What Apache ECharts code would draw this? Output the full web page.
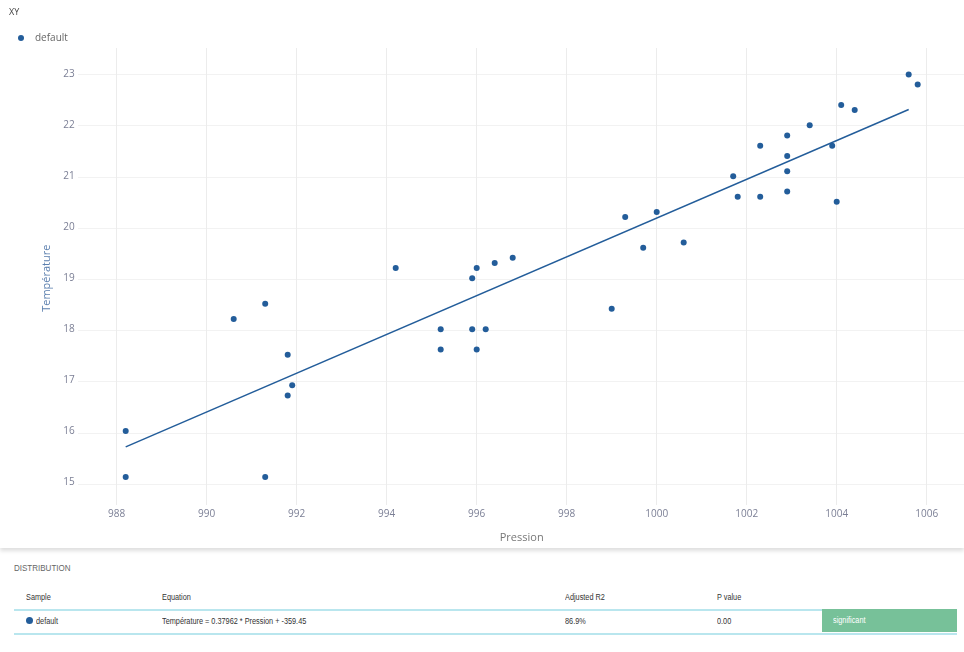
<!DOCTYPE html>
<html>
<head>
<meta charset="utf-8">
<title>XY</title>
<script src="https://cdn.jsdelivr.net/npm/echarts@6/dist/echarts.min.js"></script>
<style>
	html, body { margin: 0; padding: 0; background: #fff; }
	#main { width: 964px; height: 548px; box-shadow: 0 3px 4px rgba(0, 0, 0, 0.13); position: relative; }
	#dist { position: relative; width: 964px; height: 104px; font-family: "Liberation Sans", Arial, sans-serif; }
	#dist .ttl { position: absolute; left: 14px; top: 15px; font-size: 9px; color: #666; transform: scaleX(0.89); transform-origin: left center; }
	#dist .hd, #dist .cell { position: absolute; font-size: 8.5px; color: #333; transform: scaleX(0.86); transform-origin: left center; white-space: nowrap; }
	#dist .hd { top: 44px; }
	#dist .cell { top: 68px; }
	#dist .ln { position: absolute; left: 14px; width: 943px; height: 1.5px; background: #b9e6ee; }
	#dist .dot { position: absolute; left: 26px; top: 69px; width: 7px; height: 7px; border-radius: 50%; background: #235d9a; }
	#dist .badge { position: absolute; left: 822px; top: 61px; width: 135px; height: 23px; background: #77c199; }
	#dist .badge span { position: absolute; left: 11px; top: 0; color: #fff; font-size: 8.5px; line-height: 23px; transform: scaleX(0.86); transform-origin: left center; }
</style>
</head>
<body>
<div id="main"></div>
<div id="dist">
	<div class="ttl">DISTRIBUTION</div>
	<div class="hd" style="left:26px">Sample</div>
	<div class="hd" style="left:162px">Equation</div>
	<div class="hd" style="left:565px">Adjusted R2</div>
	<div class="hd" style="left:717px">P value</div>
	<div class="ln" style="top:61px"></div>
	<div class="dot"></div>
	<div class="cell" style="left:36px">default</div>
	<div class="cell" id="eq" style="left:162px"></div>
	<div class="cell" id="r2" style="left:565px"></div>
	<div class="cell" id="pv" style="left:717px"></div>
	<div class="badge"><span>significant</span></div>
	<div class="ln" style="top:85px"></div>
</div>
<script>
// Pression / Température
var pression = [988.2, 988.2, 990.6, 991.3, 991.3, 991.8, 991.8, 991.9, 994.2, 995.2,
	995.2, 995.9, 995.9, 996.0, 996.0, 996.2, 996.4, 996.8, 999.0, 999.3,
	999.7, 1000.0, 1000.6, 1001.7, 1001.8, 1002.3, 1002.3, 1002.9, 1002.9, 1002.9,
	1002.9, 1003.4, 1003.9, 1004.0, 1004.1, 1004.4, 1005.6, 1005.8];
var temperature = [16.0, 15.1, 18.2, 18.5, 15.1, 17.5, 16.7, 16.9, 19.2, 18.0,
	17.6, 19.0, 18.0, 19.2, 17.6, 18.0, 19.3, 19.4, 18.4, 20.2,
	19.6, 20.3, 19.7, 21.0, 20.6, 21.6, 20.6, 21.8, 21.4, 21.1,
	20.7, 22.0, 21.6, 20.5, 22.4, 22.3, 23.0, 22.8];
// droite de regression (extremites)
var fitX = [988.2, 1005.6];
var fitY = [15.69, 22.31];
// graduations
var xTicks = [988, 1006, 2];
var yTicks = [15, 23, 1];
var equation = 'Température = 0.37962 * Pression + -359.45';
var adjR2 = '86.9%';
var pValue = '0.00';

document.getElementById('eq').innerText = equation;
document.getElementById('r2').innerText = adjR2;
document.getElementById('pv').innerText = pValue;

var points = [];
for (var i = 0; i < pression.length; i++) {
	points.push([pression[i], temperature[i]]);
}
var fitLine = [];
for (var j = 0; j < fitX.length; j++) {
	fitLine.push([fitX[j], fitY[j]]);
}

var blue = '#235d9a';
var hidden = { show : false };
var myChart = echarts.init(document.getElementById('main'));
var option = {
	animation : false,
	textStyle : { fontFamily : '"Open Sans", sans-serif' },
	title : {
		text : 'XY',
		left : 4,
		top : 3,
		textStyle : { fontSize : 9, fontWeight : 'normal', color : '#444', fontFamily : '"Open Sans", sans-serif' }
	},
	legend : {
		left : 13,
		top : 28,
		icon : 'circle',
		itemWidth : 6,
		itemHeight : 6,
		textStyle : { color : '#666', fontSize : 10, padding : [0, 0, 0, 6] },
		data : [ 'default' ]
	},
	// 0 : donnees, 1 : lignes horizontales, 2 : lignes verticales
	grid : [
		{ left : 116.7, right : 37.3, top : 74.4, bottom : 64 },
		{ left : 78, right : 0, top : 74.4, bottom : 64 },
		{ left : 116.7, right : 37.3, top : 48, bottom : 43 }
	],
	xAxis : [ {
		gridIndex : 0,
		type : 'value',
		min : xTicks[0],
		max : xTicks[1],
		interval : xTicks[2],
		name : 'Pression',
		nameLocation : 'middle',
		nameGap : 50,
		nameTextStyle : { color : '#777', fontSize : 11 },
		axisLine : hidden,
		axisTick : hidden,
		axisLabel : { color : '#7b7f95', fontSize : 10, margin : 27, formatter : function (v) { return String(v); } },
		splitLine : hidden
	}, {
		gridIndex : 1, type : 'value', show : false, min : xTicks[0], max : xTicks[1]
	}, {
		gridIndex : 2,
		type : 'value',
		min : xTicks[0],
		max : xTicks[1],
		interval : xTicks[2],
		axisLine : hidden,
		axisTick : hidden,
		axisLabel : hidden,
		splitLine : { show : true, lineStyle : { color : '#ececec', width : 1 } }
	} ],
	yAxis : [ {
		gridIndex : 0,
		type : 'value',
		min : yTicks[0],
		max : yTicks[1],
		interval : yTicks[2],
		name : 'Température',
		nameLocation : 'middle',
		nameGap : 63,
		nameRotate : 90,
		nameTextStyle : { color : '#5b7fae', fontSize : 11 },
		axisLine : hidden,
		axisTick : hidden,
		axisLabel : { color : '#7b7f95', fontSize : 10, margin : 42 },
		splitLine : hidden
	}, {
		gridIndex : 1,
		type : 'value',
		min : yTicks[0],
		max : yTicks[1],
		interval : yTicks[2],
		axisLine : hidden,
		axisTick : hidden,
		axisLabel : hidden,
		splitLine : { show : true, lineStyle : { color : '#f2f2f2', width : 1 } }
	}, {
		gridIndex : 2, type : 'value', show : false, min : 0, max : 1
	} ],
	series : [ {
		name : 'default',
		type : 'scatter',
		xAxisIndex : 0,
		yAxisIndex : 0,
		symbolSize : 6,
		itemStyle : { color : blue, opacity : 1 },
		data : points
	}, {
		name : 'fit',
		type : 'line',
		xAxisIndex : 0,
		yAxisIndex : 0,
		symbol : 'none',
		lineStyle : { color : blue, width : 1.5 },
		data : fitLine
	} ]
};
myChart.setOption(option);
</script>
</body>
</html>
